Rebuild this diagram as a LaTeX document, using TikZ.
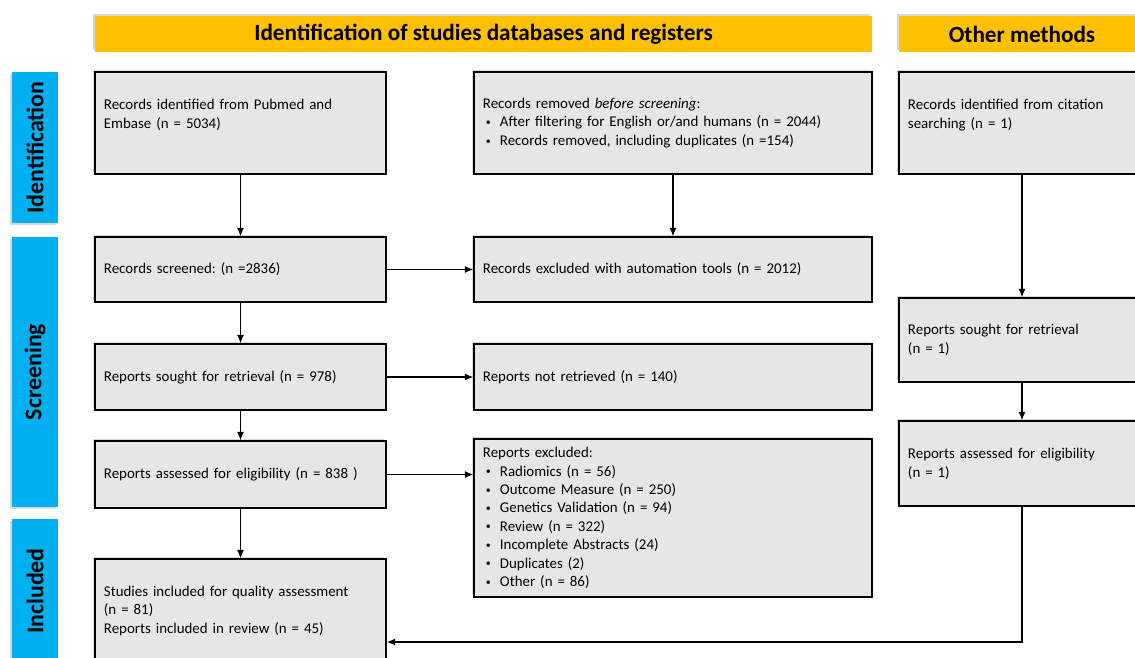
\documentclass[tikz,border=0pt]{standalone}
\usepackage{fontspec}
\setmainfont{Carlito}
\usepackage{xcolor}
\usetikzlibrary{arrows.meta,shadows}
\definecolor{headorange}{HTML}{FFC000}
\definecolor{phaseblue}{HTML}{00B0F0}
\definecolor{boxgray}{HTML}{E6E6E6}
\newcommand{\bul}{\hspace*{0.075cm}\makebox[0.35cm][l]{\raisebox{0.2ex}{\fontsize{7}{7}\selectfont\textbullet}}}
\frenchspacing

\begin{document}
\begin{tikzpicture}[x=0.025cm, y=-0.025cm,
  box/.style={draw, line width=0.9pt, fill=boxgray, align=left, inner xsep=0.225cm, inner ysep=0pt,
    font=\fontsize{10.6}{13.4}\selectfont,
    drop shadow={shadow xshift=-1.2pt, shadow yshift=1.2pt, opacity=0.3}},
  header/.style={fill=headorange, minimum height=0.9cm, inner sep=0pt,
    font=\fontsize{16.5}{18}\selectfont\bfseries,
    drop shadow={shadow xshift=-1.2pt, shadow yshift=1.2pt, opacity=0.3}},
  phase/.style={fill=phaseblue, rotate=90, minimum height=1.15cm, inner sep=0pt,
    font=\fontsize{17}{19}\selectfont\bfseries,
    drop shadow={shadow xshift=-1.2pt, shadow yshift=-1.2pt, opacity=0.3}},
  arrow/.style={-{Latex[length=6pt,width=5pt]}, line width=0.9pt}]
\useasboundingbox (0,0) rectangle (1135,657);
\clip (0,0) rectangle (1135,657);

\node[header, minimum width=19.425cm] (headdb) at (483.5,34) {Identification of studies databases and registers};
\node[header, minimum width=6.15cm] (headother) at (1022,34) {Other methods};

\node[phase, minimum width=3.775cm] (identphase) at (35,147.5) {Identification};
\node[phase, minimum width=6.75cm] (screenphase) at (35,372) {Screening};
\node[phase, minimum width=3.6cm] (inclphase) at (35,591) {Included};

\node[box, text width=6.825cm, minimum height=2.55cm] (dbrec) at (240.5,123)
{Records identified from Pubmed and\\
Embase (n = 5034)\\\mbox{}};
\node[box, text width=9.5cm, minimum height=2.55cm] (removed) at (673,123)
{Records removed \textit{before screening}:\\
\bul After filtering for English or/and humans (n = 2044)\\
\bul Records removed, including duplicates (n =154)};
\node[box, text width=5.7cm, minimum height=2.55cm] (citerec) at (1022,123)
{Records identified from citation\\
searching (n = 1)\\\mbox{}};

\node[box, text width=6.825cm, minimum height=1.625cm] (screened) at (240.5,269.5)
{Records screened: (n =2836)};
\node[box, text width=9.5cm, minimum height=1.625cm] (autoexcl) at (673,269.5)
{Records excluded with automation tools (n = 2012)};

\node[box, text width=6.825cm, minimum height=1.65cm] (sought) at (240.5,377)
{Reports sought for retrieval (n = 978)};
\node[box, text width=9.5cm, minimum height=1.65cm] (notret) at (673,377)
{Reports not retrieved (n = 140)};

\node[box, text width=6.825cm, minimum height=1.675cm] (assessed) at (240.5,474.5)
{Reports assessed for eligibility (n = 838 )};
\node[box, text width=9.5cm, minimum height=3.95cm, font=\fontsize{10.6}{13.1}\selectfont] (excluded) at (673,518)
{Reports excluded:\\
\bul Radiomics (n = 56)\\
\bul Outcome Measure (n = 250)\\
\bul Genetics Validation (n = 94)\\
\bul Review (n = 322)\\
\bul Incomplete Abstracts (24)\\
\bul Duplicates (2)\\
\bul Other (n = 86)};

\node[box, text width=6.825cm, minimum height=2.6cm] (included) at (240.5,611)
{Studies included for quality assessment\\
(n = 81)\\
Reports included in review (n = 45)};

\node[box, text width=5.7cm, minimum height=2.1cm] (othersought) at (1022,340)
{Reports sought for retrieval\\
(n = 1)};
\node[box, text width=5.7cm, minimum height=2.125cm] (otherassessed) at (1022,463.5)
{Reports assessed for eligibility\\
(n = 1)};
\coordinate (otherturn) at (1022,642);

\draw[arrow] (dbrec) -- (screened);
\draw[arrow] (removed) -- (autoexcl);
\draw[arrow] (screened) -- (autoexcl);
\draw[arrow] (screened) -- (sought);
\draw[arrow] (sought) -- (notret);
\draw[arrow] (sought) -- (assessed);
\draw[arrow] (assessed) -- (assessed -| excluded.west);
\draw[arrow] (assessed) -- (included);
\draw[arrow] (citerec) -- (othersought);
\draw[arrow] (othersought) -- (otherassessed);
\draw[arrow] (otherassessed) -- (otherturn) -- (otherturn -| included.east);
\end{tikzpicture}
\end{document}
